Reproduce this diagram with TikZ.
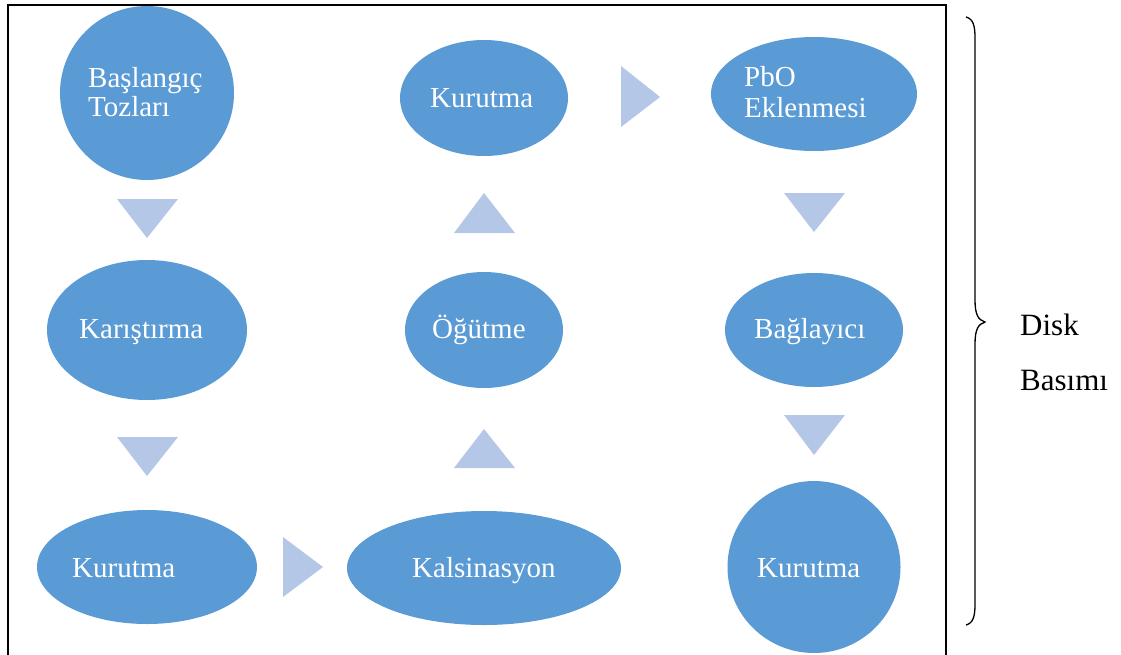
\documentclass[tikz,border=0pt]{standalone}
\usepackage{fontspec}
\setmainfont{Liberation Serif}
\usetikzlibrary{shapes.geometric}
\definecolor{blobfill}{HTML}{5B9BD5}
\definecolor{tipfill}{HTML}{B4C7E7}
\begin{document}
\begin{tikzpicture}[x=1pt,y=-1pt,
  blob/.style={ellipse, fill=blobfill, draw=none, inner sep=0pt},
  lbl/.style={text=white, inner sep=0pt, font=\fontsize{29}{31}\selectfont},
  side/.style={text=black, inner sep=0pt, font=\fontsize{31}{33}\selectfont},
  tip/.style={fill=tipfill, draw=none}]
\useasboundingbox (0,0) rectangle (1121,654);

% outer frame, open at the bottom
\draw[line width=2pt] (8,660) -- (8,5) -- (946,5) -- (946,660);

% process steps
\node[blob, minimum width=174pt, minimum height=174pt] (baslangic) at (147,93) {};
\node[blob, minimum width=200pt, minimum height=140pt] (karistirma) at (147,330) {};
\node[blob, minimum width=220pt, minimum height=114pt] (kurutmaA) at (147,567) {};
\node[blob, minimum width=274pt, minimum height=114pt] (kalsinasyon) at (484,568) {};
\node[blob, minimum width=158pt, minimum height=116pt] (ogutme) at (484,330) {};
\node[blob, minimum width=168pt, minimum height=116pt] (kurutmaB) at (484,98) {};
\node[blob, minimum width=206pt, minimum height=114pt] (pbo) at (814,94) {};
\node[blob, minimum width=178pt, minimum height=114pt] (baglayici) at (814,330) {};
\node[blob, minimum width=173pt, minimum height=172pt] (kurutmaC) at (814,567) {};

% labels
\node[lbl, anchor=base west] (t1a) at (88,87) {Başlangıç};
\node[lbl, anchor=base west] (t1b) at (88,116) {Tozları};
\node[lbl, anchor=base west] (t2) at (79,338) {Karıştırma};
\node[lbl, anchor=base west] (t3) at (72,577) {Kurutma};
\node[lbl, anchor=base west] (t4) at (412,577) {Kalsinasyon};
\node[lbl, anchor=base west] (t5) at (432,338) {Öğütme};
\node[lbl, anchor=base west] (t6) at (430,107) {Kurutma};
\node[lbl, anchor=base west] (t7a) at (744,86) {PbO};
\node[lbl, anchor=base west] (t7b) at (744,117) {Eklenmesi};
\node[lbl, anchor=base west] (t8) at (754,338) {Bağlayıcı};
\node[lbl, anchor=base west] (t9) at (757,577) {Kurutma};

% flow triangles
\fill[tip] (117,199) -- (178,199) -- (147,238) -- cycle;
\fill[tip] (117,437) -- (178,437) -- (147,476) -- cycle;
\fill[tip] (283,537) -- (283,597) -- (323,567) -- cycle;
\fill[tip] (454,468) -- (515,468) -- (484,429) -- cycle;
\fill[tip] (454,233) -- (515,233) -- (484,193) -- cycle;
\fill[tip] (621,66) -- (621,127) -- (660,97) -- cycle;
\fill[tip] (784,193) -- (845,193) -- (814,232) -- cycle;
\fill[tip] (784,415) -- (845,415) -- (814,455) -- cycle;

% brace and its caption
\draw[line width=1.3pt]
  (966,17) .. controls (973,19) and (975,25) .. (975,38)
  -- (975,300) .. controls (975,314) and (978,320) .. (985,322)
  .. controls (978,324) and (975,330) .. (975,344)
  -- (975,604) .. controls (975,617) and (973,623) .. (966,625);
\node[side, anchor=base west] (disk) at (1020,335) {Disk};
\node[side, anchor=base west] (basimi) at (1020,390) {Basımı};
\end{tikzpicture}
\end{document}
